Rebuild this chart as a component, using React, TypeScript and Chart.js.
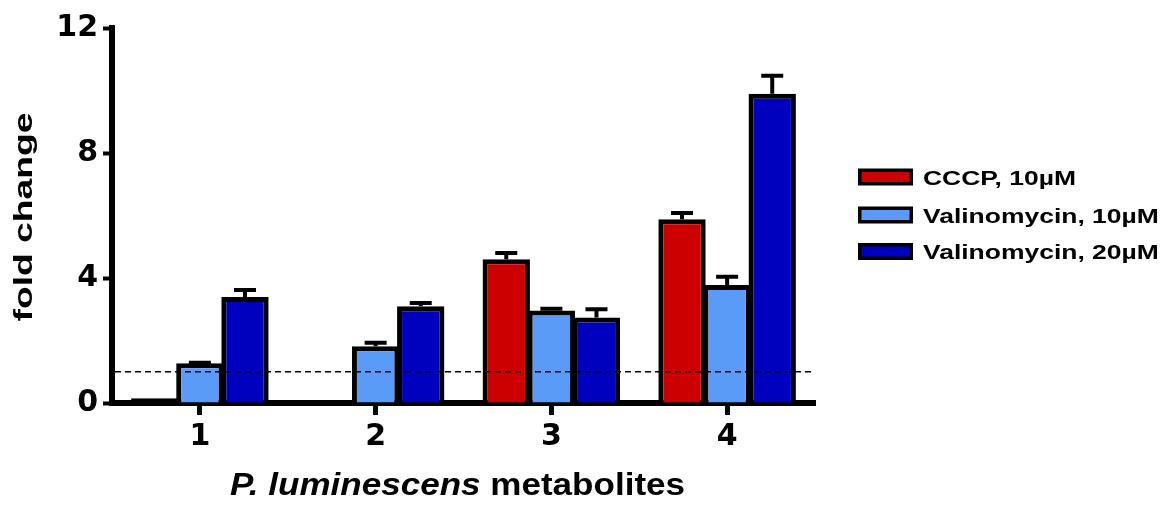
import React, { useEffect, useRef } from "react";
import { Chart, registerables } from "chart.js";

Chart.register(...registerables);

const categories = ["1", "2", "3", "4"];
const seriesNames = ["CCCP, 10µM", "Valinomycin, 10µM", "Valinomycin, 20µM"];
const seriesColors = ["#CC0000", "#5B9BF8", "#0000BF"];
const cccpValues = [0.15, 0.1, 4.6, 5.88];
const cccpErrors = [0.0, 0.0, 0.2, 0.2];
const valino10Values = [1.27, 1.82, 2.96, 3.78];
const valino10Errors = [0.02, 0.11, 0.06, 0.26];
const valino20Values = [3.39, 3.1, 2.74, 9.9];
const valino20Errors = [0.23, 0.1, 0.26, 0.57];
const yTicks = [0, 4, 8, 12];
const baselineValue = 1;
const yTitle = "fold change";
const xTitleItalic = "P. luminescens ";
const xTitleRegular = "metabolites";

const errorsBySeries = [cccpErrors, valino10Errors, valino20Errors];

const overlayPlugin = {
  id: "overlay",
  afterDatasetsDraw(chart: any) {
    const ctx = chart.ctx;
    const y = chart.scales.y;
    const area = chart.chartArea;
    // dashed reference line
    ctx.save();
    ctx.strokeStyle = "#000";
    ctx.lineWidth = 1.6;
    ctx.setLineDash([6, 4]);
    ctx.beginPath();
    const yb = y.getPixelForValue(baselineValue);
    ctx.moveTo(area.left + 3, yb);
    ctx.lineTo(area.right - 3, yb);
    ctx.stroke();
    ctx.restore();
    // error bars
    ctx.save();
    ctx.strokeStyle = "#000";
    ctx.lineWidth = 4;
    chart.data.datasets.forEach((ds: any, di: number) => {
      const meta = chart.getDatasetMeta(di);
      meta.data.forEach((bar: any, i: number) => {
        const v = ds.data[i];
        const e = errorsBySeries[di][i];
        if (!e) return;
        const yTop = y.getPixelForValue(v + e);
        const yBar = y.getPixelForValue(v);
        ctx.beginPath();
        ctx.moveTo(bar.x, yBar);
        ctx.lineTo(bar.x, yTop);
        ctx.moveTo(bar.x - 11, yTop);
        ctx.lineTo(bar.x + 11, yTop);
        ctx.stroke();
      });
    });
    ctx.restore();
  },
  afterDraw(chart: any) {
    const ctx = chart.ctx;
    // legend
    ctx.save();
    const rows = [177, 215, 251.5];
    chart.data.datasets.forEach((ds: any, di: number) => {
      const cy = rows[di];
      ctx.fillStyle = "#000";
      ctx.fillRect(858, cy - 8.5, 55, 17);
      ctx.fillStyle = seriesColors[di];
      ctx.fillRect(861.5, cy - 5, 48, 10);
      ctx.save();
      ctx.translate(923, cy + 7.5);
      ctx.scale(1.26, 1);
      ctx.font = "bold 21px 'Liberation Sans', Arial, sans-serif";
      ctx.fillStyle = "#000";
      ctx.textAlign = "left";
      ctx.textBaseline = "alphabetic";
      ctx.fillText(ds.label, 0, 0);
      ctx.restore();
    });
    ctx.restore();

    // y title
    ctx.save();
    ctx.font = "bold 26px 'Liberation Sans', Arial, sans-serif";
    const yw = ctx.measureText(yTitle).width;
    ctx.translate(25, 217);
    ctx.rotate(-Math.PI / 2);
    ctx.scale(209 / yw, 1);
    ctx.fillStyle = "#000";
    ctx.textAlign = "center";
    ctx.textBaseline = "middle";
    ctx.fillText(yTitle, 0, 0);
    ctx.restore();

    // x title
    ctx.save();
    const fi = "italic bold 32px 'Liberation Sans', Arial, sans-serif";
    const fr = "bold 32px 'Liberation Sans', Arial, sans-serif";
    ctx.font = fi;
    const w1 = ctx.measureText(xTitleItalic).width;
    ctx.font = fr;
    const w2 = ctx.measureText(xTitleRegular).width;
    const sx = 1.095;
    const total = (w1 + w2) * sx;
    const startX = 457.5 - total / 2;
    ctx.translate(startX, 495);
    ctx.scale(sx, 1);
    ctx.fillStyle = "#000";
    ctx.textAlign = "left";
    ctx.textBaseline = "alphabetic";
    ctx.font = fi;
    ctx.fillText(xTitleItalic, 0, 0);
    ctx.font = fr;
    ctx.fillText(xTitleRegular, w1, 0);
    ctx.restore();
  },
};

export default function App() {
  const canvasRef = useRef<HTMLCanvasElement | null>(null);

  useEffect(() => {
    document.body.style.margin = "0";
    const canvas = canvasRef.current;
    if (!canvas) return;
    const valuesBySeries = [cccpValues, valino10Values, valino20Values];
    const chart = new Chart(canvas, {
      type: "bar",
      data: {
        labels: categories,
        datasets: seriesNames.map((name, i) => ({
          label: name,
          data: valuesBySeries[i],
          // tiny bars render fully as their black outline, as in the reference
          backgroundColor: (c: any) =>
            c.raw !== undefined && c.raw < 0.3 ? "#000" : seriesColors[i],
          borderColor: "#000",
          borderWidth: 5,
          borderSkipped: "bottom",
          categoryPercentage: 0.77,
          barPercentage: 1.05,
        })),
      },
      options: {
        responsive: false,
        animation: false,
        layout: { padding: { left: 0, top: 28, right: 351, bottom: 0 } },
        plugins: {
          legend: { display: false },
          tooltip: { enabled: false },
          title: { display: false },
        },
        scales: {
          x: {
            type: "category",
            offset: true,
            grid: {
              offset: false,
              drawOnChartArea: false,
              drawTicks: true,
              tickLength: 12,
              tickWidth: 5,
              tickColor: "#000",
            },
            border: { display: true, color: "#000", width: 6 },
            ticks: {
              color: "#000",
              padding: 4,
              font: { family: "'DejaVu Sans'", weight: "bold", size: 30 },
              maxRotation: 0,
            },
            afterFit(scale: any) {
              scale.height = 105;
            },
          },
          y: {
            type: "linear",
            min: 0,
            max: 12,
            afterBuildTicks(scale: any) {
              scale.ticks = yTicks.map((v) => ({ value: v }));
            },
            grid: {
              drawOnChartArea: false,
              drawTicks: true,
              tickLength: 9,
              tickWidth: 4,
              tickColor: "#000",
            },
            border: { display: true, color: "#000", width: 6 },
            ticks: {
              color: "#000",
              padding: 5,
              font: { family: "'DejaVu Sans'", weight: "bold", size: 30 },
            },
            afterFit(scale: any) {
              scale.width = 112;
            },
          },
        },
      },
      plugins: [overlayPlugin],
    });
    return () => chart.destroy();
  }, []);

  return (
    <div style={{ width: 1166, height: 508 }}>
      <canvas ref={canvasRef} width={1166} height={508} />
    </div>
  );
}
